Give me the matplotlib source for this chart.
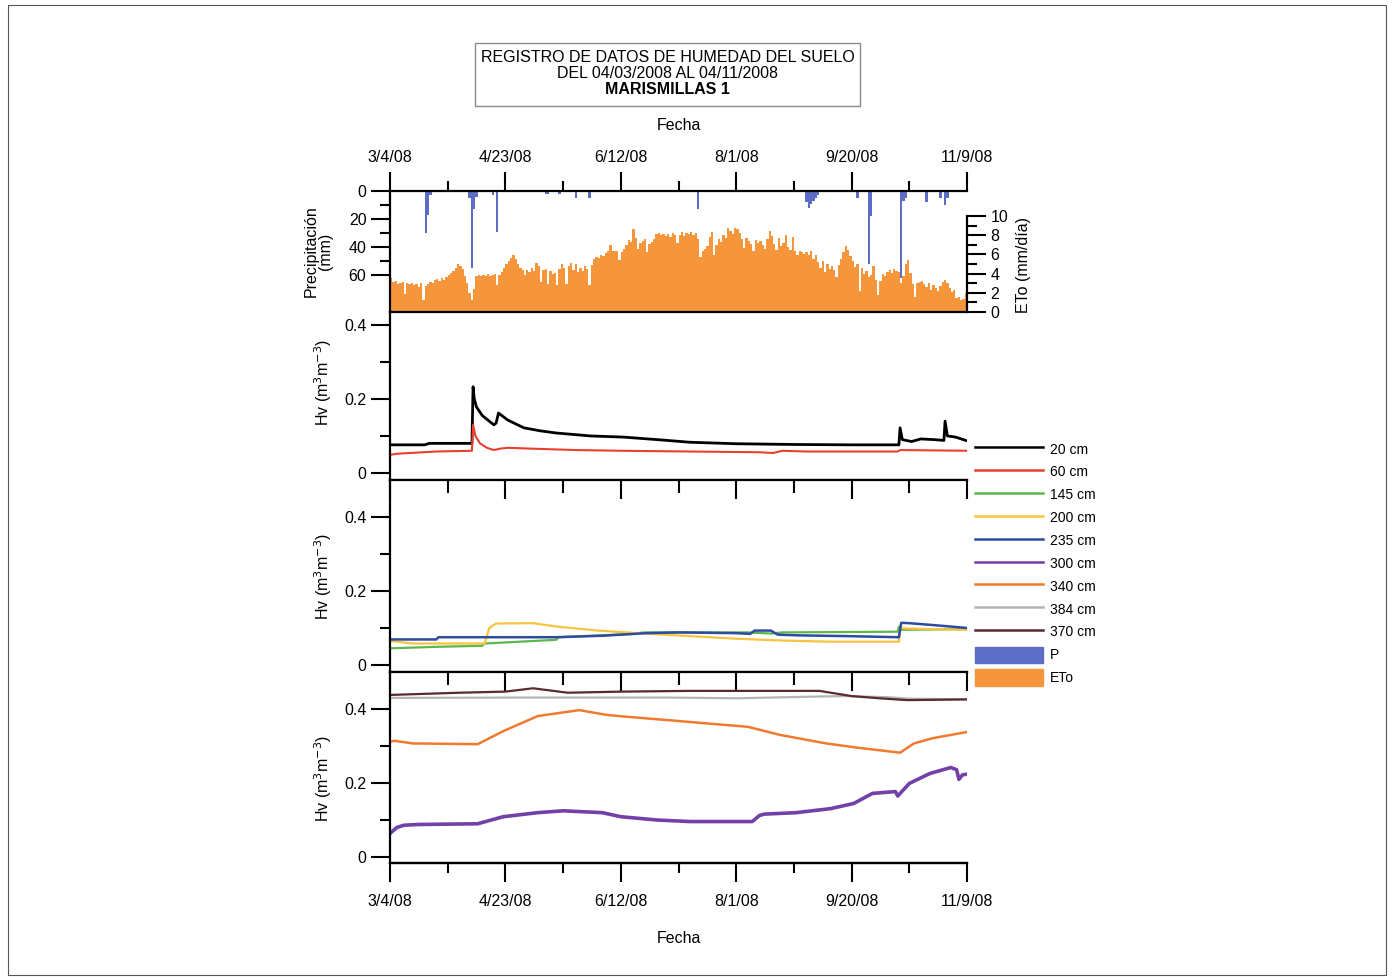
import matplotlib
matplotlib.use("Agg")
import matplotlib.pyplot as plt
import numpy as np
from matplotlib.lines import Line2D
from matplotlib.patches import Patch, Rectangle

plt.rcParams['font.family'] = ['Liberation Sans', 'DejaVu Sans']

# ---- data (days counted from 3/4/08) ----
tick_days = [0, 50, 100, 150, 200, 250]
tick_labels = ['3/4/08', '4/23/08', '6/12/08', '8/1/08', '9/20/08', '11/9/08']
minor_days = [25, 75, 125, 175, 225]

# precipitation (mm), day -> amount
p_days = [15, 16, 17, 34, 35, 36, 37, 44, 46, 67, 68, 73, 80, 86, 133,
          180, 181, 182, 183, 184, 185, 202, 207, 208, 221, 222, 223, 228, 232, 238, 240, 241]
p_mm = [30, 17, 3, 5, 55, 13, 4, 3, 29, 2, 2, 2, 5, 5, 13,
        8, 12, 9, 7, 5, 3, 5, 52, 18, 62, 7, 5, 1, 8, 5, 10, 5]

# daily ETo (mm/dia), days 0..249
eto = [3.5, 3.1, 3.2, 2.9, 3.0, 3.1, 1.9, 3.0, 2.9, 3.0,
       2.8, 2.9, 2.6, 3.0, 1.2, 2.7, 2.9, 3.1, 3.0, 3.3,
       3.4, 3.2, 3.5, 3.3, 3.6, 3.9, 4.1, 4.3, 4.6, 5.0,
       4.8, 4.5, 3.8, 3.0, 2.0, 1.2, 2.4, 3.8, 3.9, 3.7,
       3.9, 3.8, 4.0, 3.7, 3.9, 4.0, 2.8, 3.9, 4.2, 4.6,
       5.0, 5.3, 5.6, 5.9, 5.5, 5.0, 4.6, 4.4, 3.9, 4.4,
       4.2, 4.6, 4.3, 5.1, 4.8, 3.1, 4.4, 4.5, 2.9, 4.3,
       4.0, 4.1, 2.8, 4.5, 5.0, 4.6, 2.9, 4.8, 5.1, 4.4,
       5.0, 4.2, 4.6, 4.3, 4.8, 4.5, 2.8, 4.9, 5.5, 5.7,
       5.6, 5.9, 5.8, 6.1, 6.4, 7.0, 6.3, 6.4, 6.3, 5.4,
       6.2, 6.6, 7.0, 7.5, 7.3, 8.6, 7.7, 6.6, 7.2, 7.4,
       7.6, 6.2, 7.1, 7.3, 7.6, 8.1, 8.2, 8.0, 8.1, 7.9,
       8.1, 7.8, 8.2, 8.0, 7.2, 8.0, 8.3, 7.9, 8.2, 8.1,
       8.3, 8.0, 8.2, 7.6, 5.7, 6.4, 6.6, 6.9, 7.8, 8.3,
       5.9, 7.0, 7.6, 7.3, 8.0, 7.7, 8.7, 8.4, 8.1, 8.7,
       8.6, 8.2, 7.6, 6.7, 7.7, 7.4, 7.1, 6.4, 7.5, 7.2,
       7.4, 7.0, 6.6, 7.6, 8.4, 7.9, 7.1, 6.5, 7.7, 6.9,
       7.2, 8.0, 6.8, 6.5, 7.8, 6.4, 5.9, 6.4, 6.2, 6.0,
       6.2, 5.9, 6.3, 5.5, 5.9, 5.2, 4.6, 5.3, 4.2, 5.0,
       4.5, 4.8, 4.4, 3.6, 4.9, 5.5, 6.2, 6.9, 6.5, 5.8,
       5.3, 4.7, 5.0, 2.2, 4.6, 4.0, 4.3, 3.6, 3.9, 4.8,
       3.3, 1.8, 3.2, 4.0, 3.8, 4.2, 4.4, 4.1, 4.5, 4.3,
       4.2, 3.0, 3.8, 5.0, 5.4, 4.1, 2.9, 1.6, 3.0, 3.1,
       3.2, 2.9, 2.6, 3.0, 2.3, 2.8, 2.5, 2.2, 2.7, 3.1,
       3.3, 3.0, 2.5, 2.1, 2.3, 1.5, 1.6, 1.2, 1.4, 2.0]

# soil moisture Hv (m3/m3): breakpoints (day, value)
d20 = [0, 15, 17, 35.5, 36, 36.5, 37.5, 40, 45, 46, 47, 51, 58, 65, 72, 87, 101, 116, 130, 150,
       175, 200, 220.5, 221, 222, 226, 230, 236, 240, 240.5, 241.5, 245, 250]
h20 = [0.076, 0.076, 0.080, 0.080, 0.233, 0.200, 0.178, 0.155, 0.130, 0.135, 0.162, 0.143, 0.122,
       0.114, 0.108, 0.100, 0.097, 0.090, 0.083, 0.079, 0.077, 0.076, 0.076, 0.122, 0.090, 0.085,
       0.092, 0.090, 0.088, 0.140, 0.100, 0.097, 0.087]
d60 = [0, 3, 20, 35.5, 36, 37, 39, 42, 45, 48, 51, 60, 80, 100, 130, 160, 166, 170, 180, 220, 221, 250]
h60 = [0.049, 0.052, 0.058, 0.060, 0.130, 0.100, 0.080, 0.068, 0.062, 0.066, 0.068, 0.066, 0.062,
       0.060, 0.058, 0.056, 0.054, 0.060, 0.058, 0.058, 0.062, 0.060]
d145 = [0, 20, 40, 41, 72, 73, 105, 110, 155, 165, 170, 220, 220.5, 221, 250]
h145 = [0.045, 0.049, 0.052, 0.058, 0.068, 0.075, 0.084, 0.088, 0.088, 0.085, 0.088, 0.090,
        0.104, 0.095, 0.097]
d200 = [0, 10, 41, 43, 46, 62, 72, 90, 110, 130, 150, 170, 190, 220.5, 221, 235, 250]
h200 = [0.065, 0.058, 0.058, 0.100, 0.112, 0.113, 0.104, 0.093, 0.085, 0.078, 0.071, 0.066,
        0.063, 0.063, 0.099, 0.097, 0.095]
d235 = [0, 20, 21, 72, 92, 111, 125, 150, 156, 158, 165, 168, 177, 198, 220.5, 221.5, 225, 237, 250]
h235 = [0.069, 0.069, 0.075, 0.075, 0.079, 0.086, 0.088, 0.086, 0.084, 0.093, 0.093, 0.082,
        0.080, 0.078, 0.075, 0.114, 0.113, 0.107, 0.100]
d300 = [0, 3, 6, 12, 38, 49, 64, 75, 92, 100, 116, 130, 157, 160, 162, 176, 191, 201, 209, 219,
        220, 225, 234, 243, 245.5, 246.5, 248, 250]
h300 = [0.064, 0.080, 0.086, 0.088, 0.090, 0.109, 0.120, 0.125, 0.120, 0.109, 0.100, 0.096,
        0.096, 0.112, 0.116, 0.120, 0.131, 0.145, 0.172, 0.177, 0.165, 0.199, 0.226, 0.242,
        0.236, 0.210, 0.222, 0.224]
d340 = [0, 2, 10, 38, 49, 64, 82, 94, 101, 128, 155, 169, 189, 202, 221, 227, 235, 250]
h340 = [0.312, 0.314, 0.307, 0.305, 0.340, 0.381, 0.397, 0.384, 0.380, 0.366, 0.352, 0.330,
        0.307, 0.296, 0.282, 0.307, 0.321, 0.338]
d384 = [0, 60, 120, 150, 180, 197, 215, 225, 250]
h384 = [0.430, 0.431, 0.431, 0.429, 0.433, 0.435, 0.432, 0.428, 0.426]
d370 = [0, 30, 50, 62, 77, 100, 130, 186, 200, 212, 224, 250]
h370 = [0.438, 0.444, 0.447, 0.456, 0.444, 0.447, 0.449, 0.449, 0.435, 0.429, 0.424, 0.426]

C = {'20': '#000000', '60': '#e8402c', '145': '#5cb84a', '200': '#f6c440', '235': '#2d4b9f',
     '300': '#7241a8', '340': '#f07a2e', '384': '#b4b4b4', '370': '#5a2a2c',
     'P': '#5d6cc4', 'ETo': '#f5963c'}

W, H = 1393, 980
fig = plt.figure(figsize=(W / 100, H / 100), dpi=100)
fig.patch.set_facecolor('white')

L = 390 / W
AW = (967 - 390) / W


def fy(py):
    return 1 - py / H


def axes_at(top, bottom):
    return fig.add_axes([L, fy(bottom), AW, (bottom - top) / H])


TL, TLm, TW = 14, 7.5, 1.5
FS = 11.5

# ---- top panel: precipitation + ETo ----
ax0 = axes_at(191, 312)
ax0e = ax0.twinx()
ax0e.bar(np.arange(len(eto)), eto, width=1.0, align='edge', color=C['ETo'], linewidth=0)
ax0e.set_ylim(0, 12.6)
ax0.bar(p_days, p_mm, width=1.0, align='edge', color=C['P'], linewidth=0)
ax0.set_ylim(86.4, 0)
ax0.set_xlim(0, 250)
ax0.set_zorder(ax0e.get_zorder() + 1)
ax0.patch.set_visible(False)

ax0.spines['right'].set_visible(False)
for s in ['top', 'bottom', 'left']:
    ax0e.spines[s].set_visible(False)
for s in ax0.spines.values():
    s.set_linewidth(1.6)
ax0e.spines['right'].set_linewidth(1.6)
ax0e.spines['right'].set_bounds(0, 10)

ax0.xaxis.tick_top()
ax0.set_xticks(tick_days)
ax0.set_xticklabels(tick_labels)
ax0.set_xticks(minor_days, minor=True)
ax0.set_yticks([0, 20, 40, 60])
ax0.set_yticks([10, 30, 50], minor=True)
ax0.tick_params(axis='both', which='major', length=TL, width=TW, labelsize=FS, direction='out', pad=3)
ax0.tick_params(axis='x', which='major', pad=5)
ax0.tick_params(axis='both', which='minor', length=TLm, width=TW, direction='out')
ax0.set_ylabel('Precipitación\n(mm)', fontsize=FS, linespacing=1.0)
ax0.yaxis.set_label_coords(-0.098, 0.5)
ax0.set_xlabel('Fecha', fontsize=FS)
ax0.xaxis.set_label_position('top')
ax0.xaxis.labelpad = 14

ax0e.set_yticks([0, 2, 4, 6, 8, 10])
ax0e.set_yticks([1, 3, 5, 7, 9], minor=True)
ax0e.tick_params(axis='y', which='major', length=TL, width=TW, labelsize=FS, pad=3)
ax0e.tick_params(axis='y', which='minor', length=TLm, width=TW)
ax0e.set_ylabel('ETo (mm/día)', fontsize=FS)
ax0e.yaxis.set_label_coords(1.085, 0.39)

# ---- moisture panels ----
ax1 = axes_at(312, 480)
ax2 = axes_at(480, 672)
ax3 = axes_at(672, 863)

ax1.plot(d20, h20, color=C['20'], lw=2.0)
ax1.plot(d60, h60, color=C['60'], lw=1.5)
ax1.set_ylim(-0.019, 0.435)

ax2.plot(d145, h145, color=C['145'], lw=1.6)
ax2.plot(d200, h200, color=C['200'], lw=1.6)
ax2.plot(d235, h235, color=C['235'], lw=1.8)
ax2.set_ylim(-0.019, 0.5)

ax3.plot(d384, h384, color=C['384'], lw=1.6)
ax3.plot(d370, h370, color=C['370'], lw=1.6)
ax3.plot(d340, h340, color=C['340'], lw=1.8)
ax3.plot(d300, h300, color=C['300'], lw=2.6)
ax3.set_ylim(-0.016, 0.5)

for ax, ly in [(ax1, 0.583), (ax2, 0.5), (ax3, 0.445)]:
    ax.set_xlim(0, 250)
    ax.spines['right'].set_visible(False)
    for s in ax.spines.values():
        s.set_linewidth(1.6)
    ax.set_yticks([0, 0.2, 0.4])
    ax.set_yticklabels(['0', '0.2', '0.4'])
    ax.set_yticks([0.1, 0.3], minor=True)
    ax.set_xticks(tick_days)
    ax.set_xticks(minor_days, minor=True)
    ax.tick_params(axis='y', which='major', length=TL, width=TW, labelsize=FS, pad=3)
    ax.tick_params(axis='y', which='minor', length=TLm, width=TW)
    ax.set_ylabel('Hv (m$^3$m$^{-3}$)', fontsize=FS)
    ax.yaxis.set_label_coords(-0.097, ly)

ax1.spines['top'].set_visible(False)
ax1.tick_params(axis='x', which='both', bottom=False, top=False, labelbottom=False)
for ax in (ax2, ax3):
    ax.tick_params(axis='x', which='major', top=True, bottom=False, direction='in',
                   length=TL, width=TW, labelbottom=False)
    ax.tick_params(axis='x', which='minor', top=True, bottom=False, direction='in',
                   length=TLm + 1.5, width=TW)
# bottom axis of last panel
ax3b = ax3.secondary_xaxis('bottom')
ax3b.set_xticks(tick_days)
ax3b.set_xticklabels(tick_labels)
ax3b.set_xticks(minor_days, minor=True)
ax3b.tick_params(axis='x', which='major', length=TL, width=TW, labelsize=FS, direction='out', pad=8)
ax3b.tick_params(axis='x', which='minor', length=TLm, width=TW, direction='out')
ax3b.spines['bottom'].set_linewidth(1.6)
ax3b.set_xlabel('Fecha', fontsize=FS, labelpad=16.5)

# ---- legend ----
names = ['20 cm', '60 cm', '145 cm', '200 cm', '235 cm', '300 cm', '340 cm', '384 cm', '370 cm']
keys = ['20', '60', '145', '200', '235', '300', '340', '384', '370']
handles = [Line2D([], [], color=C[k], lw=1.8) for k in keys]
handles += [Patch(color=C['P']), Patch(color=C['ETo'])]
fig.legend(handles, names + ['P', 'ETo'], loc='upper left',
           bbox_to_anchor=(975 / W, fy(441)), frameon=False, borderpad=0, borderaxespad=0,
           handlelength=4.9, handleheight=1.4, handletextpad=0.5, labelspacing=0.49,
           prop={'family': ['Liberation Sans Narrow', 'Liberation Sans'], 'size': 10})

# ---- title box ----
fig.add_artist(Rectangle((475 / W, fy(106)), 385 / W, 63 / H, transform=fig.transFigure,
                         fill=False, edgecolor='#8a8a8a', lw=1.0))
cx = 667.5 / W
fig.text(cx, fy(57), 'REGISTRO DE DATOS DE HUMEDAD DEL SUELO', ha='center', va='center', fontsize=11.5)
fig.text(cx, fy(74), 'DEL 04/03/2008 AL 04/11/2008', ha='center', va='center', fontsize=11.5)
fig.text(cx, fy(90), 'MARISMILLAS 1', ha='center', va='center', fontsize=11.5, fontweight='bold')

# outer frame
fig.add_artist(Rectangle((8 / W, fy(975)), (1386 - 8) / W, (975 - 5) / H, transform=fig.transFigure,
                         fill=False, edgecolor='#555555', lw=0.8))

fig.savefig('out.png', dpi=100)
